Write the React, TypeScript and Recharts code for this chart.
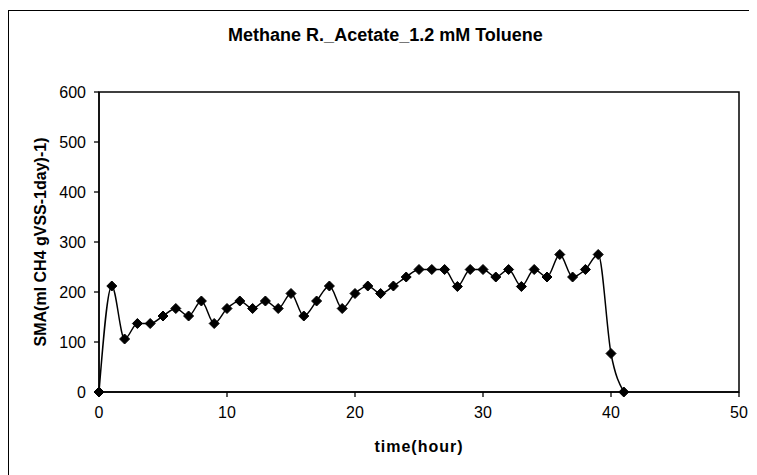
import React from 'react';
import { LineChart, Line, XAxis, YAxis, ReferenceArea } from 'recharts';

// time (hour) and specific methanogenic activity
const hours = [
  0, 1, 2, 3, 4, 5, 6, 7, 8, 9, 10, 11, 12, 13, 14, 15, 16, 17, 18, 19, 20,
  21, 22, 23, 24, 25, 26, 27, 28, 29, 30, 31, 32, 33, 34, 35, 36, 37, 38, 39, 40, 41,
];
const sma = [
  0, 212, 106, 137, 137, 152, 167, 152, 182, 137, 167, 182, 167, 182, 167, 197, 152, 182, 212, 167, 197,
  212, 197, 212, 230, 245, 245, 245, 211, 245, 245, 230, 245, 211, 245, 230, 275, 230, 245, 275, 77, 0,
];
const xTicks = [0, 10, 20, 30, 40, 50];
const yTicks = [0, 100, 200, 300, 400, 500, 600];

const data = hours.map((h, i) => ({ hour: h, sma: sma[i] }));

const FONT = '"Liberation Sans", Arial, sans-serif';

const Diamond = (props: any) => {
  const { cx, cy } = props;
  if (cx == null || cy == null) return null;
  const r = 5;
  return (
    <polygon
      points={`${cx},${cy - r} ${cx + r},${cy} ${cx},${cy + r} ${cx - r},${cy}`}
      fill="#000"
      stroke="#000"
    />
  );
};

export default function App() {
  return (
    <div style={{ position: 'relative', width: 749, height: 467, overflow: 'hidden', fontFamily: FONT }}>
      <div
        style={{
          position: 'absolute',
          left: 0,
          top: 2,
          width: 800,
          height: 800,
          borderLeft: '1px solid #000',
          borderTop: '1px solid #000',
        }}
      />
      <div
        style={{
          position: 'absolute',
          left: 0,
          width: 755,
          top: 16,
          textAlign: 'center',
          fontSize: 18,
          fontWeight: 'bold',
          lineHeight: '22px',
        }}
      >
        Methane R._Acetate_1.2 mM Toluene
      </div>
      <div style={{ position: 'absolute', left: 0, top: 0 }}>
        <LineChart width={749} height={467} data={data} margin={{ top: 84, right: 18, bottom: 23, left: 31 }}>
          <ReferenceArea x1={0} x2={50} y1={0} y2={600} fill="none" stroke="#000" strokeWidth={1.5} />
          <XAxis
            dataKey="hour"
            type="number"
            domain={[0, 50]}
            ticks={xTicks}
            height={60}
            tickSize={5}
            tickMargin={10}
            stroke="#000"
            strokeWidth={1.3}
            tick={{ fill: '#000', fontSize: 16, fontFamily: FONT }}
            label={{
              content: (p: any) => {
                const vb = p.viewBox;
                return (
                  <text
                    x={vb.x + vb.width / 2}
                    y={vb.y + 54}
                    textAnchor="middle"
                    dominantBaseline="central"
                    fontSize={16}
                    fontWeight="bold"
                    letterSpacing={1}
                    fontFamily={FONT}
                    fill="#000"
                  >
                    time(hour)
                  </text>
                );
              },
            }}
          />
          <YAxis
            type="number"
            domain={[0, 600]}
            ticks={yTicks}
            width={60}
            tickSize={5}
            tickMargin={8}
            stroke="#000"
            strokeWidth={1.3}
            tick={{ fill: '#000', fontSize: 16, fontFamily: FONT }}
            label={{
              content: (p: any) => {
                const vb = p.viewBox;
                const cx = vb.x + 1;
                const cy = vb.y + vb.height / 2;
                return (
                  <text
                    x={cx}
                    y={cy}
                    transform={`rotate(-90, ${cx}, ${cy})`}
                    textAnchor="middle"
                    dominantBaseline="central"
                    fontSize={16}
                    fontWeight="bold"
                    fontFamily={FONT}
                    fill="#000"
                  >
                    SMA(ml CH4 gVSS-1day)-1)
                  </text>
                );
              },
            }}
          />
          <Line
            type="monotone"
            dataKey="sma"
            stroke="#000"
            strokeWidth={1.5}
            dot={<Diamond />}
            activeDot={false}
            isAnimationActive={false}
          />
        </LineChart>
      </div>
    </div>
  );
}
